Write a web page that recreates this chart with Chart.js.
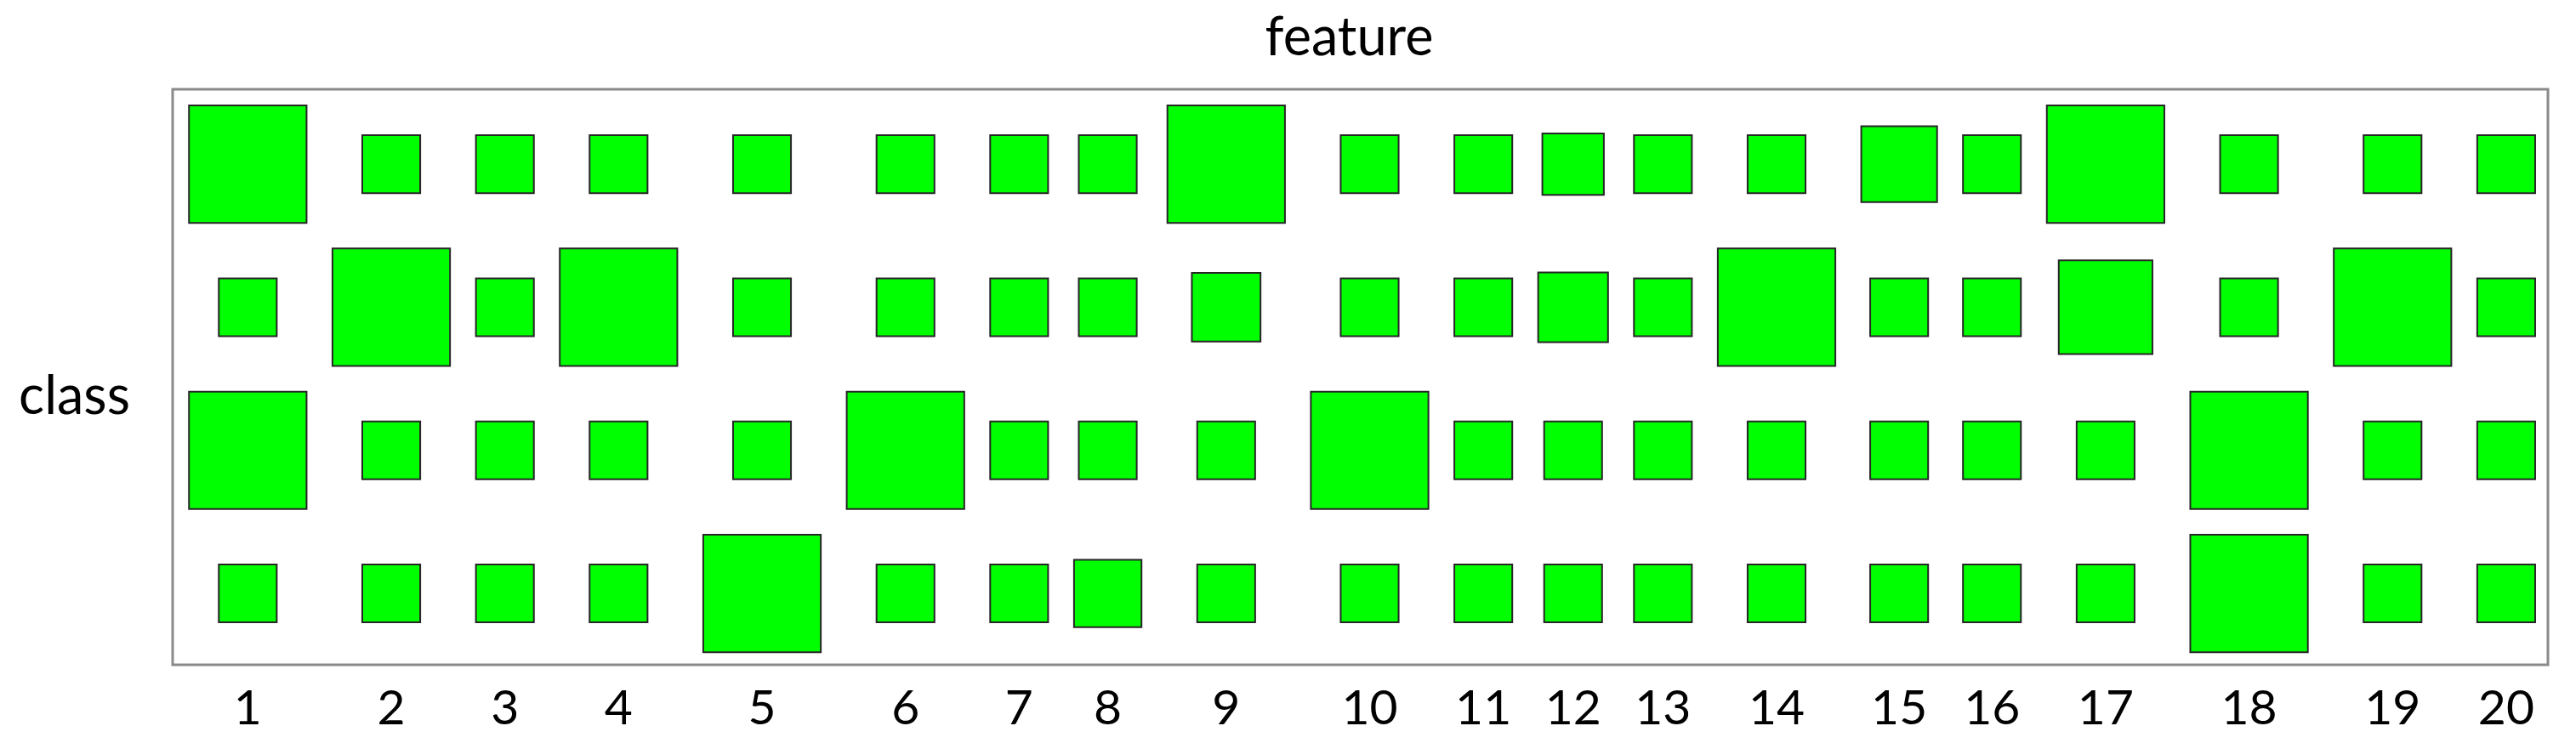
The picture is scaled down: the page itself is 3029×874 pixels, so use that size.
<!DOCTYPE html>
<html>
<head>
<meta charset="utf-8">
<script src="https://cdn.jsdelivr.net/npm/chart.js@4.4.0/dist/chart.umd.min.js"></script>
<style>
  html, body { margin: 0; padding: 0; background: #ffffff; }
  #wrap { width: 3029px; height: 874px; }
</style>
</head>
<body>
<div id="wrap"><canvas id="c" width="3029" height="874"></canvas></div>
<script>
// ---------------- data ----------------
const featureLabels = ['1','2','3','4','5','6','7','8','9','10','11','12','13','14','15','16','17','18','19','20'];
const classLabels = ['class 1','class 2','class 3','class 4']; // rows, top to bottom
const xTitle = 'feature';
const yTitle = 'class';

// square size (relative weight) per feature, one array per class row
const class1 = [1.00,0.50,0.50,0.50,0.50,0.50,0.50,0.50,1.00,0.50,0.50,0.53,0.50,0.50,0.65,0.50,1.00,0.50,0.50,0.50];
const class2 = [0.50,1.00,0.50,1.00,0.50,0.50,0.50,0.50,0.59,0.50,0.50,0.60,0.50,1.00,0.50,0.50,0.80,0.50,1.00,0.50];
const class3 = [1.00,0.50,0.50,0.50,0.50,1.00,0.50,0.50,0.50,1.00,0.50,0.50,0.50,0.50,0.50,0.50,0.50,1.00,0.50,0.50];
const class4 = [0.50,0.50,0.50,0.50,1.00,0.50,0.50,0.58,0.50,0.50,0.50,0.50,0.50,0.50,0.50,0.50,0.50,1.00,0.50,0.50];

// ---------------- layout (table-like: each column/row as wide as its largest square) ----------------
const GAP = 0.203, MARGIN_START = 0.13, MARGIN_END = 0.10;
const rows = [class1, class2, class3, class4];

function packCenters(sizes) {
  const centers = [];
  let acc = MARGIN_START;
  sizes.forEach((s, i) => { if (i > 0) acc += GAP; centers.push(acc + s / 2); acc += s; });
  return { centers, total: acc + MARGIN_END };
}
const colSizes = featureLabels.map((_, i) => Math.max(...rows.map(r => r[i])));
const rowSizes = rows.map(r => Math.max(...r));
const colPack = packCenters(colSizes);
const rowPack = packCenters(rowSizes);

function squareRadius(ctx) {
  const xs = ctx.chart.scales && ctx.chart.scales.x;
  if (!ctx.raw || !xs) return 0;
  const ppu = Math.abs(xs.getPixelForValue(1) - xs.getPixelForValue(0));
  return Math.max(0, ctx.raw.w * ppu - 2) * Math.SQRT1_2;
}

const datasets = rows.map((r, ri) => ({
  label: classLabels[ri],
  data: r.map((w, ci) => ({ x: colPack.centers[ci], y: rowPack.centers[ri], w })),
  pointStyle: 'rect',
  backgroundColor: '#00ff00',
  borderColor: '#262626',
  borderWidth: 2,
  pointRadius: squareRadius,
  pointHoverRadius: squareRadius
}));

const framePlugin = {
  id: 'frame',
  beforeDatasetsDraw(chart) {
    const { ctx, chartArea: a } = chart;
    ctx.save();
    ctx.strokeStyle = '#8a8a8a';
    ctx.lineWidth = 3;
    ctx.strokeRect(a.left, a.top, a.right - a.left, a.bottom - a.top);
    ctx.restore();
  }
};

const titlesPlugin = {
  id: 'titles',
  afterDraw(chart) {
    const { ctx, chartArea: a } = chart;
    ctx.save();
    ctx.fillStyle = '#000000';
    ctx.font = '63px Lato, "Open Sans", sans-serif';
    ctx.textAlign = 'center';
    ctx.textBaseline = 'alphabetic';
    ctx.fillText(xTitle, (a.left + a.right) / 2 - 13, a.top - 40);
    ctx.fillText(yTitle, a.left / 2 - 14, (a.top + a.bottom) / 2 + 43);
    ctx.restore();
  }
};

function draw() {
  new Chart(document.getElementById('c'), {
    type: 'scatter',
    data: { datasets },
    options: {
      responsive: false,
      animation: false,
      events: [],
      layout: { padding: { left: 203, top: 105, right: 33, bottom: 0 } },
      plugins: { legend: { display: false }, tooltip: { enabled: false }, title: { display: false } },
      scales: {
        x: {
          type: 'linear',
          position: 'bottom',
          min: 0,
          max: colPack.total,
          grid: { display: false },
          border: { display: false },
          afterBuildTicks: (scale) => { scale.ticks = colPack.centers.map(v => ({ value: v })); },
          afterFit: (scale) => { scale.height = 92; },
          ticks: {
            autoSkip: false,
            maxRotation: 0,
            minRotation: 0,
            padding: 9,
            color: '#000000',
            font: { family: 'Lato', size: 57 },
            callback: (value, index) => featureLabels[index]
          }
        },
        y: {
          type: 'linear',
          display: false,
          reverse: true,
          min: 0,
          max: rowPack.total
        }
      }
    },
    plugins: [framePlugin, titlesPlugin]
  });
}

if (document.fonts && document.fonts.load) {
  Promise.all([document.fonts.load('57px Lato'), document.fonts.load('63px Lato')]).then(draw, draw);
} else {
  draw();
}
</script>
</body>
</html>
